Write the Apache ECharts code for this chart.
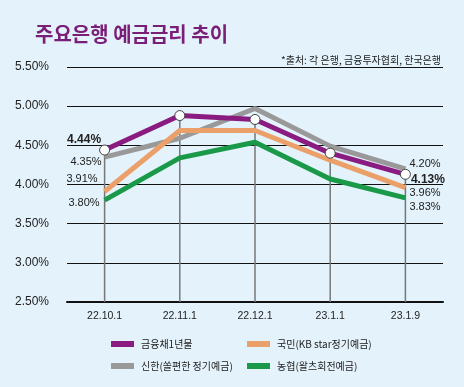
<!DOCTYPE html>
<html><head><meta charset="utf-8">
<script src="https://cdn.jsdelivr.net/npm/echarts@6/dist/echarts.min.js"></script>
<style>html,body{margin:0;padding:0;background:#e4f2fb}#c{width:464px;height:387px}</style>
</head><body><div id="c"></div>
<script>
const categories = ['22.10.1', '22.11.1', '22.12.1', '23.1.1', '23.1.9'];
const bond1y   = [4.44, 4.88, 4.83, 4.40, 4.13];   // 금융채1년물
const kookmin  = [3.91, 4.69, 4.69, 4.31, 3.96];   // 국민(KB star정기예금)
const shinhan  = [4.35, 4.59, 4.97, 4.49, 4.20];   // 신한(쏠편한 정기예금)
const nonghyup = [3.80, 4.34, 4.54, 4.07, 3.83];   // 농협(왈츠회전예금)
const names = ['금융채1년물', '국민(KB star정기예금)', '신한(쏠편한 정기예금)', '농협(왈츠회전예금)'];
const yMin = 2.5, yMax = 5.5, yStep = 0.5;

const FONT = '"Liberation Sans Narrow","Liberation Sans","Noto Sans CJK KR",sans-serif';
const KFONT = '"Noto Sans CJK KR",sans-serif';
const colors = ['#8a1b80', '#eba06a', '#999999', '#1a9a48'];

function endLabels(arr, first, last) {
  return arr.map((v, i) => {
    const d = { value: v };
    if (i === 0 && first) d.label = Object.assign({ show: true, position: 'left', formatter: v.toFixed(2) + '%', fontFamily: FONT, fontSize: 11, color: '#222' }, first);
    if (i === arr.length - 1 && last) d.label = Object.assign({ show: true, position: 'right', formatter: v.toFixed(2) + '%', fontFamily: FONT, fontSize: 11, color: '#222' }, last);
    return d;
  });
}

const chart = echarts.init(document.getElementById('c'), null, { renderer: 'canvas' });
function lineSeries(name, color, data, extra) {
  return Object.assign({
    type: 'line', name: name, color: color, data: data, z: 3, animation: false,
    lineStyle: { width: 5, color: color },
    showSymbol: true, symbol: 'circle', symbolSize: 0.01,
    itemStyle: { color: color },
    emphasis: { disabled: true }
  }, extra || {});
}

chart.setOption({
  backgroundColor: '#e4f2fb',
  animation: false,
  title: [
    { text: '주요은행 예금금리 추이', left: 30, top: 19, textStyle: { fontFamily: KFONT, fontSize: 20, fontWeight: 'bold', color: '#7a1f78' } },
    { text: '*출처: 각 은행, 금융투자협회, 한국은행', right: 18, top: 50, textStyle: { fontFamily: KFONT, fontSize: 10, fontWeight: 'normal', color: '#222' } }
  ],
  legend: [
    { data: [{ name: names[0], itemStyle: { color: colors[0], borderWidth: 0 } }], left: 106, top: 334 },
    { data: [names[1]], left: 242, top: 334 },
    { data: [names[2]], left: 106, top: 356 },
    { data: [names[3]], left: 242, top: 356 }
  ].map(l => Object.assign(l, {
    itemWidth: 23, itemHeight: 6, icon: 'rect', itemGap: 0,
    textStyle: { fontFamily: KFONT, fontSize: 10, color: '#222', padding: [0, 0, 0, 2] }
  })),
  grid: { left: 67, right: 21, top: 67, bottom: 85 },
  xAxis: {
    type: 'category', data: categories, boundaryGap: true,
    axisLine: { lineStyle: { color: '#111', width: 2 } },
    axisTick: { show: false },
    axisLabel: { fontFamily: FONT, fontSize: 10.5, color: '#222', margin: 9 }
  },
  yAxis: {
    type: 'value', min: yMin, max: yMax, interval: yStep,
    axisLine: { show: false }, axisTick: { show: false },
    axisLabel: { formatter: v => v.toFixed(2) + '%', fontFamily: FONT, fontSize: 12, color: '#222', margin: 18 },
    splitLine: { lineStyle: { color: '#111', width: 1 } }
  },
  series: [
    {
      name: '_drop', type: 'bar', data: bond1y, barWidth: 1.5, z: 1, silent: true, animation: false,
      itemStyle: { color: '#777' }
    },
    lineSeries(names[2], colors[2], endLabels(shinhan, { offset: [2, 5] }, { offset: [-1, -5] })),
    lineSeries(names[1], colors[1], endLabels(kookmin, { offset: [-2, -13] }, { offset: [-1, 5] })),
    lineSeries(names[3], colors[3], endLabels(nonghyup, { offset: [0, 3] }, { offset: [-1, 9] })),
    lineSeries(names[0], colors[0], endLabels(bond1y, { offset: [7, -10], fontSize: 12, fontWeight: 'bold' }, { offset: [-5, 5], fontSize: 12, fontWeight: 'bold' }), {
      z: 4, symbolSize: 10,
      itemStyle: { color: '#fff', borderColor: '#444', borderWidth: 1 }
    })
  ]
});
</script></body></html>
